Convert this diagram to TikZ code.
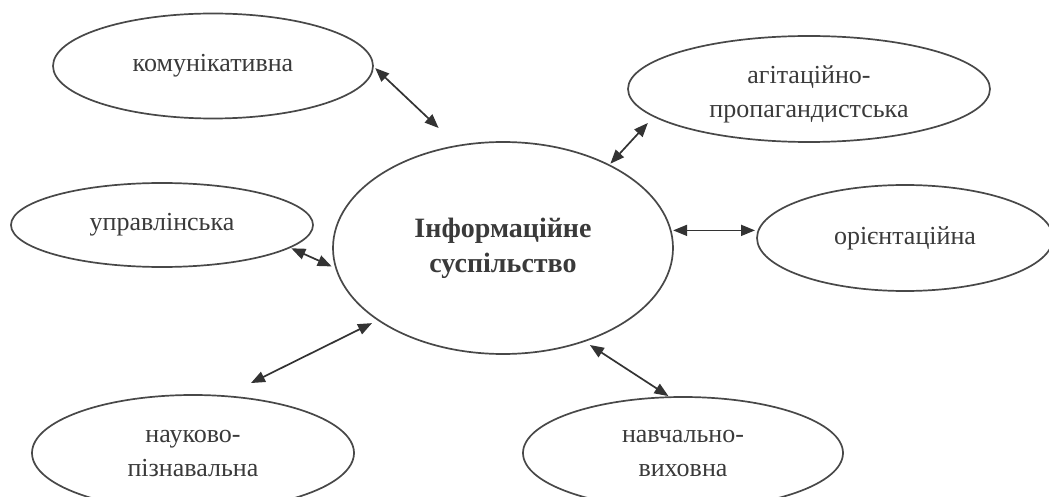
\documentclass[tikz,border=0pt]{standalone}
\usepackage{fontspec}
\setmainfont{Liberation Serif}
\usetikzlibrary{shapes.geometric,arrows.meta}
\definecolor{ink}{HTML}{484848}
\definecolor{txt}{HTML}{3A3A3A}
\definecolor{tipc}{HTML}{333333}
\begin{document}
\begin{tikzpicture}[x=1pt,y=-1pt,
  bub/.style={ellipse,draw=ink,line width=1.7pt,inner sep=0pt,outer sep=0pt,
    align=center,text=txt,font=\fontsize{26}{34}\selectfont},
  hub/.style={bub,font=\fontsize{28}{35}\selectfont\bfseries},
  link/.style={draw=tipc,line width=1.7pt,
    {Triangle[length=14pt,width=11pt]}-{Triangle[length=14pt,width=11pt]}}]
\useasboundingbox[fill=white] (0,0) rectangle (1049,497);
\node[hub,minimum width=340pt,minimum height=212pt] (centre) at (503,248) {Інформаційне\\суспільство};
\node[bub,minimum width=320pt,minimum height=105pt] (komm) at (213,66) {комунікативна};
\node[bub,minimum width=362pt,minimum height=106pt] (agit) at (809,89) {\rule{0pt}{28pt}агітаційно-\\пропагандистська};
\node[bub,minimum width=302pt,minimum height=84pt] (upr) at (162,225) {управлінська};
\node[bub,minimum width=296pt,minimum height=106pt] (orient) at (905,238) {орієнтаційна};
\node[bub,minimum width=322pt,minimum height=116pt] (nauk) at (193,453) {науково-\\пізнавальна};
\node[bub,minimum width=320pt,minimum height=112pt] (navch) at (683,453) {навчально-\\виховна};
\draw[link, shorten <=3pt, shorten >=26pt] (komm.0) -- (centre.114.9);
\draw[link, shorten <=9pt, shorten >=2pt] (agit.190.1) -- (centre.38.6);
\draw[link, shorten <=2pt, shorten >=5pt] (upr.350.2) -- (centre.187.2);
\draw[link, shorten <=2.5pt, shorten >=2pt] (centre.6.1) -- (orient.west |- centre.6.1);
\draw[link, shorten <=29.5pt, shorten >=7pt] (nauk.61.8) -- (centre.210);
\draw[link, shorten <=7pt, shorten >=2pt] (centre.311) -- (navch.103.3);
\end{tikzpicture}
\end{document}
